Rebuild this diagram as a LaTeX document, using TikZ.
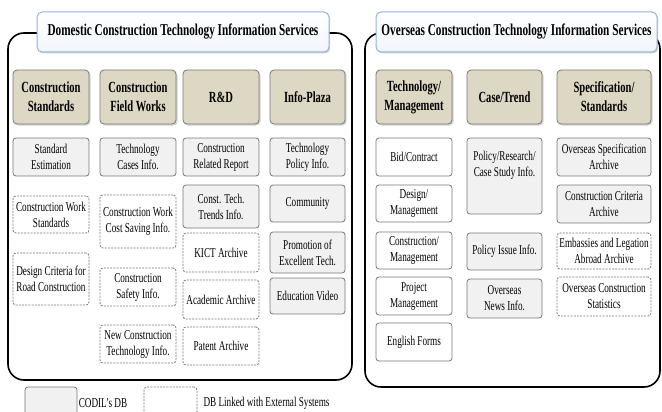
\documentclass[tikz,border=0pt]{standalone}
\usepackage{fontspec}
\setmainfont[FakeStretch=0.68]{Liberation Serif}
\usetikzlibrary{shadows}

\definecolor{catfill}{RGB}{221,216,195}
\definecolor{itemfill}{RGB}{241,241,241}
\definecolor{edgegray}{RGB}{120,120,120}
\definecolor{titleblue}{RGB}{141,180,226}

\tikzset{
  frame/.style={line width=1.6pt, rounded corners=16pt},
  title/.style={draw=titleblue, line width=1pt, rounded corners=5pt,
    top color=white, bottom color=titleblue!12, inner sep=1pt,
    minimum height=40pt,
    drop shadow={opacity=0.35, shadow xshift=1.2pt, shadow yshift=-1.5pt},
    font=\fontsize{16.5}{20}\selectfont\bfseries},
  cat/.style={draw=edgegray, fill=catfill, line width=0.8pt, rounded corners=4pt,
    align=center, inner sep=1pt, minimum width=76pt, minimum height=54pt,
    drop shadow={opacity=0.35, shadow xshift=1.5pt, shadow yshift=-1.5pt},
    font=\fontsize{15.5}{19}\selectfont\bfseries},
  item/.style={draw=edgegray, fill=itemfill, line width=0.8pt, rounded corners=3pt,
    align=center, inner sep=1pt, minimum width=76pt, minimum height=38pt,
    font=\fontsize{13.5}{16}\selectfont},
  plain/.style={item, fill=white},
  ext/.style={item, fill=white, dash pattern=on 2pt off 1.2pt},
  key/.style={font=\fontsize{13.5}{16}\selectfont}
}

\begin{document}
\begin{tikzpicture}[x=1pt,y=-1pt]
  \useasboundingbox (0,0) rectangle (662,412);

  % group frames
  \draw[frame] (8,33) rectangle (352,380);
  \draw[frame] (365,33) rectangle (660,387);

  % group titles
  \node[title, minimum width=292pt] (dom) at (183,32)
    {Domestic Construction Technology Information Services};
  \node[title, minimum width=281pt] (ovs) at (516.5,32)
    {Overseas Construction Technology Information Services};

  % domestic categories
  \node[cat] (cstd) at (51,97) {Construction\\Standards};
  \node[cat] (cfw) at (138,97) {Construction\\Field Works};
  \node[cat] (rnd) at (221,97) {R\&D};
  \node[cat, minimum width=75pt] (plaza) at (307.5,97) {Info-Plaza};

  % overseas categories
  \node[cat] (tmgt) at (414,97) {Technology/\\Management};
  \node[cat, minimum width=75pt] (trend) at (504.5,97) {Case/Trend};
  \node[cat, minimum width=94pt] (spec) at (604,97) {Specification/\\Standards};

  % Construction Standards
  \node[item] (stdest) at (51,157) {Standard\\Estimation};
  \node[ext, minimum height=37pt] (cwstd) at (51,214.5) {Construction Work\\Standards};
  \node[ext, minimum height=52pt] (road) at (51,279) {Design Criteria for\\Road Construction};

  % Construction Field Works
  \node[item] (tcase) at (138,157) {Technology\\Cases Info.};
  \node[ext, minimum height=53pt] (cost) at (138,221.5) {Construction Work\\Cost Saving Info.};
  \node[ext] (safety) at (138,287) {Construction\\Safety Info.};
  \node[ext] (newct) at (138,344) {New Construction\\Technology Info.};

  % R&D
  \node[item] (report) at (221,157) {Construction\\Related Report};
  \node[item, minimum height=43pt] (trends) at (221,206.5) {Const. Tech.\\Trends Info.};
  \node[ext, minimum height=39pt] (kict) at (221,252.5) {KICT Archive};
  \node[ext, minimum height=39pt] (acad) at (221,299.5) {Academic Archive};
  \node[ext] (patent) at (221,346) {Patent Archive};

  % Info-Plaza
  \node[item, minimum width=75pt] (policy) at (307.5,157) {Technology\\Policy Info.};
  \node[item, minimum width=75pt, minimum height=37pt] (comm) at (307.5,203.5) {Community};
  \node[item, minimum width=75pt, minimum height=41pt] (promo) at (307.5,252.5) {Promotion of\\Excellent Tech.};
  \node[item, minimum width=75pt, minimum height=36pt] (video) at (307.5,296) {Education Video};

  % Technology/Management
  \node[plain] (bid) at (414,157) {Bid/Contract};
  \node[plain, minimum height=37pt] (dmgt) at (414,203.5) {Design/\\Management};
  \node[plain, minimum height=37pt] (cmgt) at (414,250.5) {Construction/\\Management};
  \node[plain] (pmgt) at (414,296) {Project\\Management};
  \node[plain] (forms) at (414,342) {English Forms};

  % Case/Trend
  \node[item, minimum width=75pt, minimum height=76pt] (study) at (504.5,176) {Policy/Research/\\Case Study Info.\\[8pt]};
  \node[item, minimum width=75pt, minimum height=37pt] (issue) at (504.5,251.5) {Policy Issue Info.};
  \node[item, minimum width=75pt, minimum height=39pt] (news) at (504.5,298.5) {Overseas\\News Info.};

  % Specification/Standards
  \node[item, minimum width=94pt] (osarch) at (604,157) {Overseas Specification\\Archive};
  \node[item, minimum width=94pt] (crit) at (604,204) {Construction Criteria\\Archive};
  \node[ext, minimum width=94pt, minimum height=36pt] (emb) at (604,251) {Embassies and Legation\\Abroad Archive};
  \node[ext, minimum width=94pt, minimum height=39pt] (stats) at (604,296.5) {Overseas Construction\\Statistics};

  % legend
  \node[item, minimum width=52pt, minimum height=40pt] (keydb) at (51,407) {};
  \node[key] (codil) at (103,403) {CODIL’s DB};
  \node[ext, minimum width=53pt, minimum height=40pt] (keyext) at (170.5,407) {};
  \node[key] (extdb) at (266.5,403) {DB Linked with External Systems};
\end{tikzpicture}
\end{document}
